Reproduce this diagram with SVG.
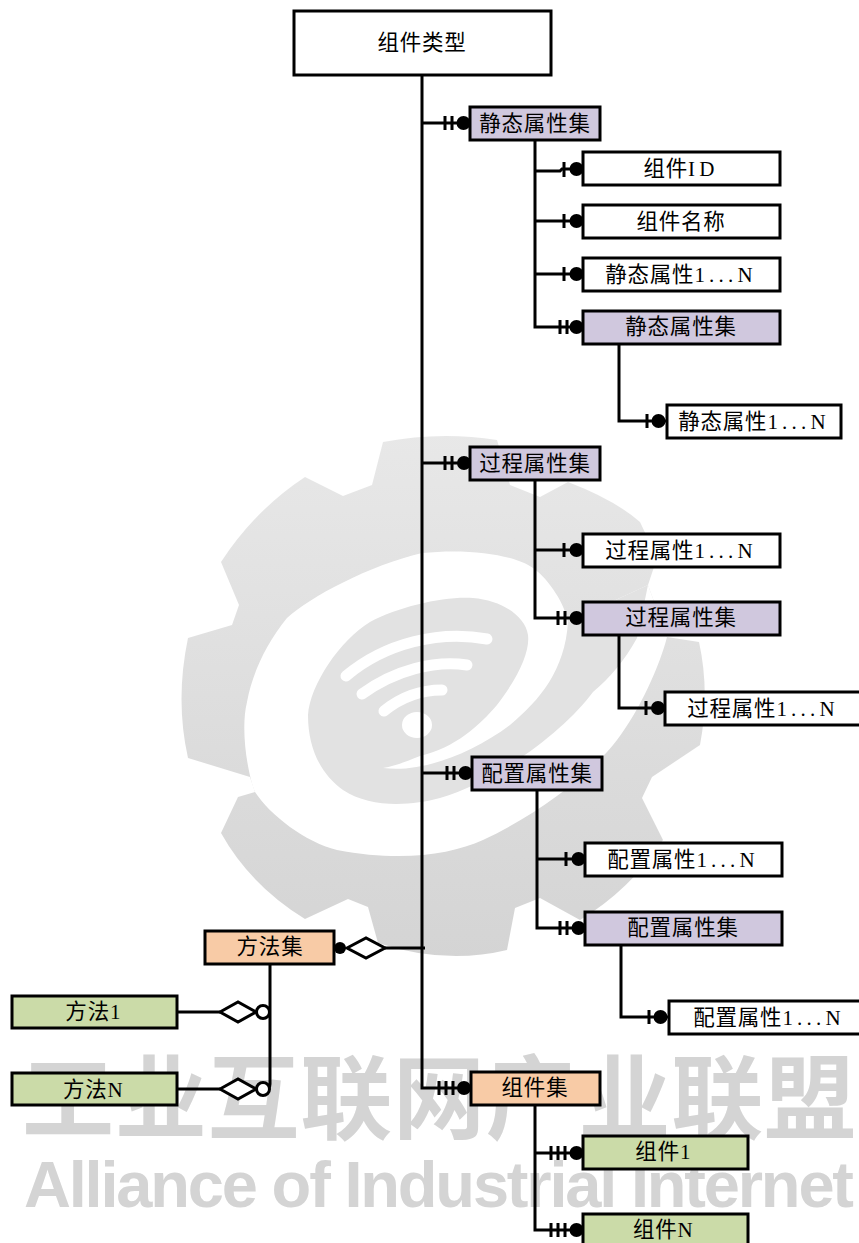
<svg xmlns="http://www.w3.org/2000/svg" width="859" height="1243" viewBox="0 0 859 1243">
<style>
.box{stroke:#000;stroke-width:3}
.w{fill:#fff}.p{fill:#d0c8de}.o{fill:#f8cba6}.g{fill:#cbdba8}
text.t{font-family:"Liberation Serif","Noto Sans CJK SC",serif;font-size:21.5px;letter-spacing:.8px;fill:#000;text-anchor:middle}
.m{font-size:21px;letter-spacing:4.2px}
.l{fill:none;stroke:#000;stroke-width:3}
.d{fill:#000}
.oc{fill:#fff;stroke:#000;stroke-width:3}
.wm{font-family:"Liberation Sans","Noto Sans CJK SC",sans-serif;font-weight:700;fill:#d4d4d4}
</style>
<defs>
<linearGradient id="gg" gradientUnits="userSpaceOnUse" x1="0" y1="430" x2="0" y2="960"><stop offset="0" stop-color="#e8e8e8"/><stop offset="1" stop-color="#d4d4d4"/></linearGradient>
</defs>
<rect width="859" height="1243" fill="#fff"/>
<g id="watermark">
<path fill="url(#gg)" d="M383,442Q440,431 497,440L510,485L540,497L568,482Q615,500 640,522L657,558L648,585L667,637L699,642Q710,692 700,745L652,777L642,798L663,840Q630,890 580,920L540,898L515,908L507,950Q445,965 378,943L368,907L348,899L305,919Q250,885 221,833L238,797L255,792L250,777L188,758Q175,700 188,638L232,625L239,605L221,562Q255,510 305,477L343,496L372,485Z"/>
<path fill="#fff" d="M667,637C660,665 640,710 617,740C590,775 537,815 483,840C450,855 400,862 337,850C305,842 270,815 255,792C248,775 240,730 247,702C252,675 265,645 287,618C310,597 370,565 422,553C470,548 515,555 533,568C550,580 565,605 568,622L648,585Z"/>
<path fill="#e2e2e2" d="M648,585L637,638C625,660 610,678 593,692C565,730 500,780 440,798C410,806 370,808 343,790C322,775 308,750 308,715C310,685 340,640 370,622C400,606 445,596 473,598C500,600 525,615 528,635C530,650 520,675 497,705C480,725 455,748 420,756C405,762 395,766 383,768C420,773 470,755 510,725C540,700 565,670 568,622Z"/>
<g fill="none" stroke="#fff" stroke-linecap="round" stroke-width="11">
<path d="M346,676C385,643 440,630 487,639"/>
<path d="M362,694C395,670 435,660 467,665"/>
<path d="M384,711C400,698 420,690 442,690"/>
</g>
<ellipse cx="417" cy="725" rx="15" ry="13" fill="#fff"/>
<text class="wm" x="22" y="1132" font-size="92" textLength="834" lengthAdjust="spacing">工业互联网产业联盟</text>
<text class="wm" x="24" y="1207" font-size="65" textLength="830" lengthAdjust="spacing">Alliance of Industrial Internet</text>
</g>
<g id="connectors">
<path class="l" d="M422,75V1088H471M422,123H470M422,463H470M422,773H472"/>
<path class="l" d="M535,140V327H583M535,171H560L562,169H583M535,221H583M535,274H583"/>
<path class="l" d="M619,344V421H667"/>
<path class="l" d="M535,480V618H583M535,550H583"/>
<path class="l" d="M619,635V708H665"/>
<path class="l" d="M537,790V928H585M537,859H585"/>
<path class="l" d="M621,945V1017H669"/>
<path class="l" d="M535,1105V1230H583M535,1153H583"/>
<path class="l" d="M385,948H425"/>
<path class="l" d="M270,964V1084Q270,1089 265,1089M177,1012H220M177,1089H220"/>
<path class="l" d="M445,116V130M452,116V130M445,456V470M452,456V470M447,766V780M454,766V780"/>
<path class="l" d="M564,162V177M564,214V228M564,267V281M560,320V334M567,320V334"/>
<path class="l" d="M564,543V557M558,611V625M565,611V625M566,852V866M560,921V935M567,921V935"/>
<path class="l" d="M647,414V428M646,701V715M649,1010V1024"/>
<path class="l" d="M439,1081V1095M446,1081V1095M453,1081V1095M551,1146V1160M558,1146V1160M565,1146V1160M551,1223V1237M558,1223V1237M565,1223V1237"/>
<g class="d">
<circle cx="463.500" cy="123" r="7"/><circle cx="464" cy="463" r="7"/><circle cx="465.500" cy="773" r="7"/><circle cx="464" cy="1088" r="7"/>
<circle cx="576.500" cy="169" r="7"/><circle cx="576.500" cy="221" r="7"/><circle cx="576.500" cy="274" r="7"/><circle cx="576.500" cy="327" r="7"/>
<circle cx="658.500" cy="421" r="7"/><circle cx="576.500" cy="550" r="7"/><circle cx="576.500" cy="618" r="7"/><circle cx="658" cy="708" r="7"/>
<circle cx="578.500" cy="859" r="7"/><circle cx="578.500" cy="928" r="7"/><circle cx="660.500" cy="1017" r="7"/>
<circle cx="576.500" cy="1153" r="7"/><circle cx="576.500" cy="1230" r="7"/><circle cx="340" cy="948" r="6"/>
</g>
<polygon class="oc" points="347,948 366,938 385,948 366,958"/>
<polygon class="oc" points="220,1012 238,1002 256,1012 238,1022"/>
<polygon class="oc" points="220,1089 238,1079 256,1089 238,1099"/>
<circle class="oc" cx="263" cy="1012" r="6.500"/>
<circle class="oc" cx="263" cy="1089" r="6.500"/>
</g>
<g id="n0"><rect class="box w" x="294" y="11" width="257" height="64"/><text class="t" x="422" y="50">组件类型</text></g>
<g id="n1"><rect class="box p" x="470" y="107" width="130" height="33"/><text class="t" x="535" y="131">静态属性集</text></g>
<g id="n2"><rect class="box w" x="583" y="152" width="197" height="33"/><text class="t" x="681" y="176">组件<tspan class="m">ID</tspan></text></g>
<g id="n3"><rect class="box w" x="583" y="205" width="197" height="33"/><text class="t" x="681" y="229">组件名称</text></g>
<g id="n4"><rect class="box w" x="583" y="258" width="197" height="33"/><text class="t" x="681" y="282">静态属性<tspan class="m">1...N</tspan></text></g>
<g id="n5"><rect class="box p" x="583" y="311" width="197" height="33"/><text class="t" x="681" y="334">静态属性集</text></g>
<g id="n6"><rect class="box w" x="667" y="405" width="174" height="33"/><text class="t" x="754" y="429">静态属性<tspan class="m">1...N</tspan></text></g>
<g id="n7"><rect class="box p" x="470" y="447" width="130" height="33"/><text class="t" x="535" y="471">过程属性集</text></g>
<g id="n8"><rect class="box w" x="583" y="534" width="197" height="33"/><text class="t" x="681" y="558">过程属性<tspan class="m">1...N</tspan></text></g>
<g id="n9"><rect class="box p" x="583" y="602" width="197" height="33"/><text class="t" x="681" y="625">过程属性集</text></g>
<g id="n10"><rect class="box w" x="665" y="692" width="196" height="33"/><text class="t" x="763" y="716">过程属性<tspan class="m">1...N</tspan></text></g>
<g id="n11"><rect class="box p" x="472" y="757" width="130" height="33"/><text class="t" x="537" y="781">配置属性集</text></g>
<g id="n12"><rect class="box w" x="585" y="843" width="197" height="33"/><text class="t" x="683" y="867">配置属性<tspan class="m">1...N</tspan></text></g>
<g id="n13"><rect class="box p" x="585" y="912" width="197" height="33"/><text class="t" x="683" y="935">配置属性集</text></g>
<g id="n14"><rect class="box w" x="669" y="1001" width="192" height="33"/><text class="t" x="769" y="1025">配置属性<tspan class="m">1...N</tspan></text></g>
<g id="n15"><rect class="box o" x="205" y="931" width="129" height="33"/><text class="t" x="270" y="954">方法集</text></g>
<g id="n16"><rect class="box g" x="12" y="996" width="165" height="32"/><text class="t" x="95" y="1019">方法<tspan class="m">1</tspan></text></g>
<g id="n17"><rect class="box g" x="12" y="1073" width="165" height="32"/><text class="t" x="95" y="1097">方法<tspan class="m">N</tspan></text></g>
<g id="n18"><rect class="box o" x="471" y="1072" width="129" height="33"/><text class="t" x="535" y="1095">组件集</text></g>
<g id="n19"><rect class="box g" x="583" y="1136" width="165" height="33"/><text class="t" x="665" y="1159">组件<tspan class="m">1</tspan></text></g>
<g id="n20"><rect class="box g" x="583" y="1214" width="165" height="33"/><text class="t" x="665" y="1237">组件<tspan class="m">N</tspan></text></g>
</svg>
